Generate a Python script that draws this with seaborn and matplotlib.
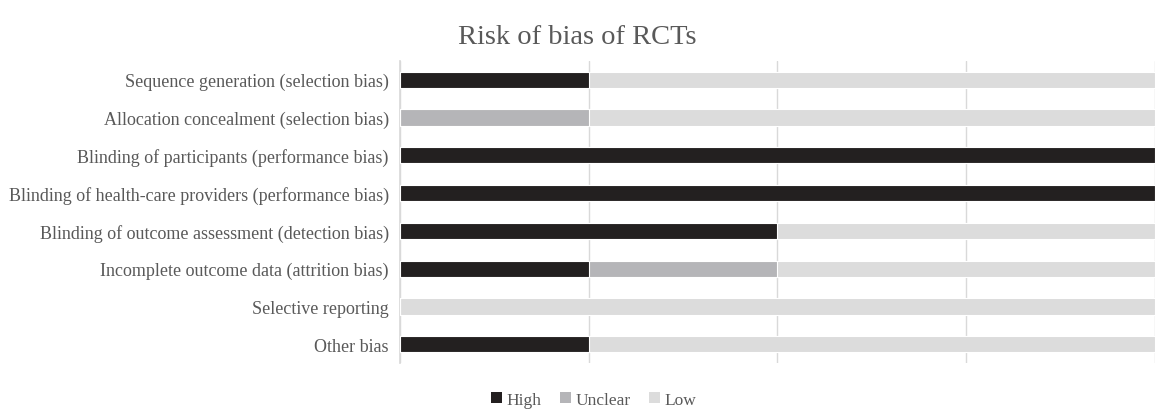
"""Risk of bias of RCTs - stacked horizontal bars."""

import matplotlib
matplotlib.use("Agg")
import matplotlib.pyplot as plt
import numpy as np
import pandas as pd
import seaborn as sns
from matplotlib.patches import Patch
from matplotlib.ticker import FixedLocator

domains = [
    "Sequence generation (selection bias)",
    "Allocation concealment (selection bias)",
    "Blinding of participants (performance bias)",
    "Blinding of health-care providers (performance bias)",
    "Blinding of outcome assessment (detection bias)",
    "Incomplete outcome data (attrition bias)",
    "Selective reporting",
    "Other bias",
]
high = [1, 0, 4, 4, 2, 1, 0, 1]
unclear = [0, 1, 0, 0, 0, 1, 0, 0]
low = [3, 3, 0, 0, 2, 2, 4, 3]

levels = ["High", "Unclear", "Low"]
colors = {"High": "#231f20", "Unclear": "#b5b5b8", "Low": "#dcdcdc"}
text_grey = "#595959"

sns.set_theme(style="white")
plt.rcParams["font.family"] = ["Liberation Serif", "DejaVu Serif"]

df = pd.DataFrame({"domain": domains, "High": high, "Unclear": unclear, "Low": low})
total = df[levels].sum(axis=1)
df["High"] = df["High"] / total
df["Unclear"] = df["Unclear"] / total
df["Low"] = df["Low"] / total
# cumulative ends so the layers can be overlaid back to front
df["cum_low"] = df["High"] + df["Unclear"] + df["Low"]
df["cum_unclear"] = df["High"] + df["Unclear"]
df["cum_high"] = df["High"]

fig = plt.figure(figsize=(11.55, 4.1), dpi=100)
ax = fig.add_axes([0.3463, 0.112, 0.6537, 0.737])

for col, lvl in [("cum_low", "Low"), ("cum_unclear", "Unclear"), ("cum_high", "High")]:
    sns.barplot(data=df, x=col, y="domain", orient="h", color=colors[lvl],
                width=0.43, edgecolor="white", linewidth=0.8, ax=ax, zorder=3)

ax.set_xlim(0, 1)
ax.set_ylim(len(domains) - 0.5, -0.5)
ax.set_xticks([0, 0.25, 0.5, 0.75, 1.0])
ax.set_xticklabels([])
ax.tick_params(axis="x", length=0)
ax.grid(axis="x", color="#d9d9d9", linewidth=1, zorder=0)
ax.set_xlabel("")
ax.set_ylabel("")

ax.tick_params(axis="y", which="major", length=0, pad=8, labelsize=13, labelcolor=text_grey)
ax.yaxis.set_minor_locator(FixedLocator(np.arange(-0.5, len(domains), 1.0)))
ax.tick_params(axis="y", which="minor", length=4, color="#d9d9d9", width=1)

for side in ["top", "right", "bottom"]:
    ax.spines[side].set_visible(False)
ax.spines["left"].set_color("#d9d9d9")

fig.suptitle("Risk of bias of RCTs", y=0.94, fontsize=20.5, color=text_grey)

handles = [Patch(facecolor=colors[l], edgecolor="none") for l in levels]
fig.legend(handles, levels, loc="center", bbox_to_anchor=(0.514, 0.022), ncol=3,
           frameon=False, fontsize=12.5, labelcolor=text_grey, handlelength=0.6,
           handleheight=0.6, handletextpad=0.25, columnspacing=1.1)

fig.savefig("out.png", dpi=100)
